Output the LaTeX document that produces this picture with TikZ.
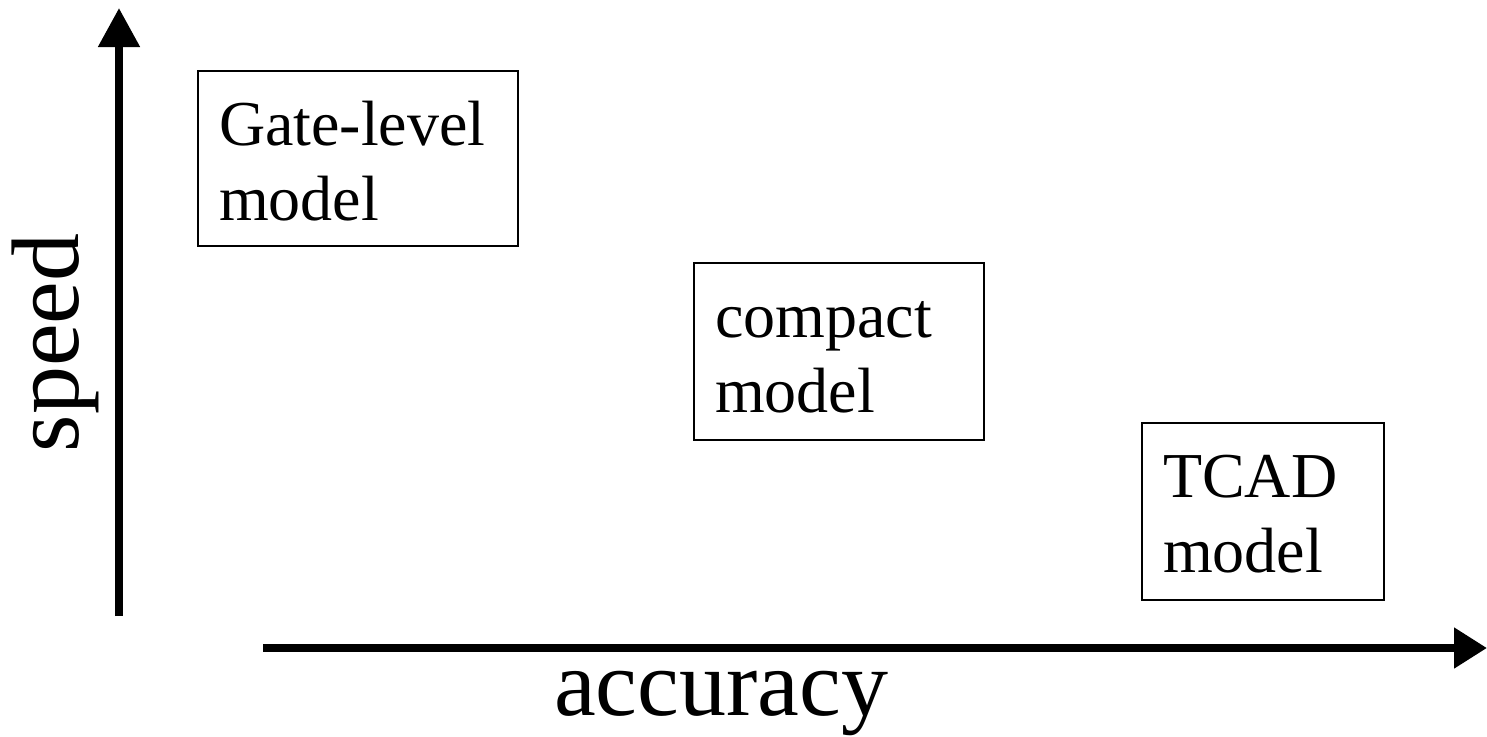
\documentclass[tikz,border=0pt]{standalone}
\usepackage{fontspec}
\setmainfont{Liberation Serif}
\usetikzlibrary{arrows.meta}
\begin{document}
\begin{tikzpicture}[x=1pt,y=-1pt,
  modelbox/.style={draw=black, line width=2pt, inner xsep=21pt, inner ysep=0pt,
    align=left, font=\fontsize{64}{75}\selectfont, text height=45pt},
  axis/.style={line width=8pt},
  axislabel/.style={inner sep=0pt, font=\fontsize{96}{100}\selectfont}]
  \useasboundingbox (0,0) rectangle (1487,736);

  % axes
  \coordinate (yfoot) at (119,616);
  \coordinate (ytip) at (119,8);
  \coordinate (xfoot) at (263,648);
  \coordinate (xtip) at (1487,648);
  \draw[axis, -{Triangle[length=39pt,width=40pt]}] (yfoot) -- (ytip);
  \draw[axis, -{Triangle[length=33pt,width=39pt]}] (xfoot) -- (xtip);

  % axis labels
  \node[axislabel, rotate=90, anchor=base] (speed) at (78,343) {speed};
  \node[axislabel, anchor=base, font=\fontsize{94}{100}\selectfont] (accuracy) at (721,715) {accuracy};

  % model boxes (text depth places the first baseline 74pt below the top edge)
  \node[modelbox, minimum width=320pt, minimum height=175pt, text width=278pt,
    text depth=72pt] (gate) at (358,158.5) {Gate-level\\model};
  \node[modelbox, minimum width=290pt, minimum height=177pt, text width=248pt,
    text depth=74pt] (compact) at (839,351.5) {compact\\model};
  \node[modelbox, minimum width=242pt, minimum height=177pt, text width=200pt,
    text depth=74pt] (tcad) at (1263,511.5) {TCAD\\model};
\end{tikzpicture}
\end{document}
